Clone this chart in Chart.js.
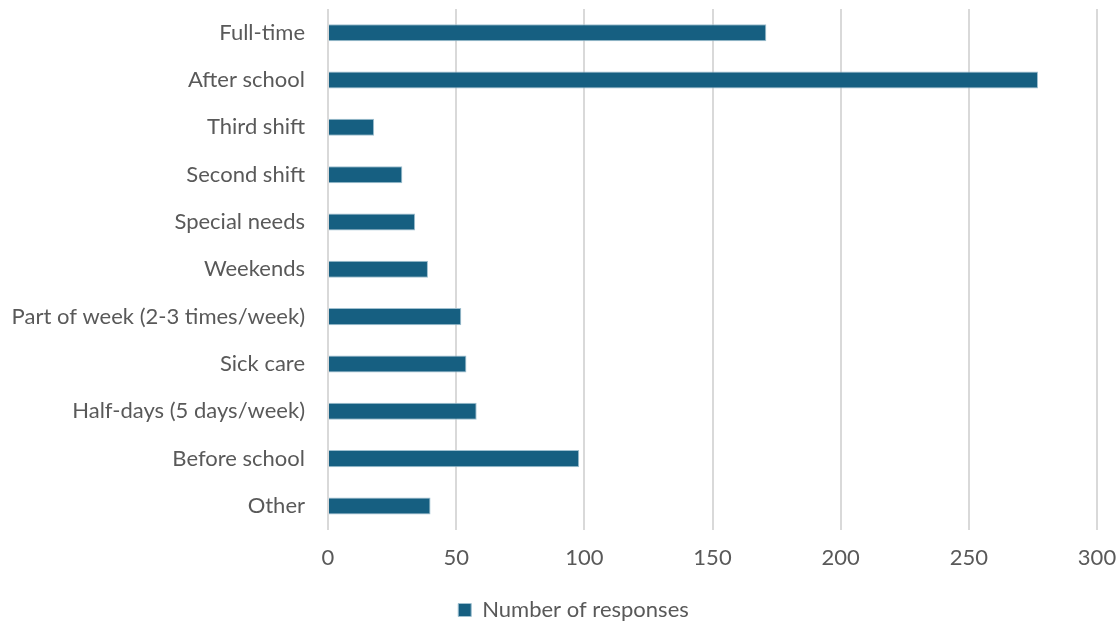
<!DOCTYPE html>
<html>
<head>
<meta charset="utf-8">
<script src="https://cdn.jsdelivr.net/npm/chart.js@4/dist/chart.umd.min.js"></script>
<style>
    html, body { margin: 0; padding: 0; background: #fff; }
    #wrap { width: 1119px; height: 622px; }
</style>
</head>
<body>
<div id="wrap"><canvas id="careChart"></canvas></div>
<script>
// care types asked about, top to bottom
var careTypes = [
    "Full-time",
    "After school",
    "Third shift",
    "Second shift",
    "Special needs",
    "Weekends",
    "Part of week (2-3 times/week)",
    "Sick care",
    "Half-days (5 days/week)",
    "Before school",
    "Other",
];
var responseCounts = [171, 277, 18, 29, 34, 39, 52, 54, 58, 98, 40];
var xTicks = [0, 50, 100, 150, 200, 250, 300];

var textColor = "#595959";
var fontFamily = "Lato, 'Open Sans', sans-serif";

// push the legend a little to the right of the canvas centre
var legendShift = {
    id: "legendShift",
    afterLayout: function (chart) {
        chart.legend.left += 50;
    },
};

new Chart(document.getElementById("careChart").getContext("2d"), {
    type: "bar",
    data: {
        labels: careTypes,
        datasets: [
            {
                label: "Number of responses",
                data: responseCounts,
                backgroundColor: "#165f81",
                borderColor: "#9fc0d0",
                borderWidth: 1,
                categoryPercentage: 1,
                barPercentage: 0.36,
            },
        ],
    },
    options: {
        indexAxis: "y",
        responsive: true,
        maintainAspectRatio: false,
        animation: false,
        layout: {
            padding: { left: 0, right: 22, top: 9, bottom: -9 },
        },
        scales: {
            x: {
                min: 0,
                max: 300,
                afterBuildTicks: function (axis) {
                    axis.ticks = xTicks.map(function (v) { return { value: v }; });
                },
                afterFit: function (axis) {
                    axis.paddingLeft = 0;
                    axis.paddingRight = 0;
                },
                grid: {
                    color: "#d9d9d9",
                    lineWidth: 2,
                    drawTicks: false,
                },
                border: { display: false },
                ticks: {
                    color: textColor,
                    font: { family: fontFamily, size: 22 },
                    padding: 15,
                },
            },
            y: {
                grid: { display: false, drawTicks: false },
                border: { display: false },
                afterFit: function (axis) {
                    axis.width = 328;
                    axis.paddingTop = 0;
                    axis.paddingBottom = 0;
                },
                ticks: {
                    color: textColor,
                    font: { family: fontFamily, size: 22 },
                    padding: 23,
                },
            },
        },
        plugins: {
            legend: {
                position: "bottom",
                labels: {
                    color: textColor,
                    font: { family: fontFamily, size: 22 },
                    boxWidth: 13,
                    boxHeight: 13,
                    padding: 13,
                },
            },
            tooltip: { enabled: false },
        },
    },
    plugins: [legendShift],
});
</script>
</body>
</html>
